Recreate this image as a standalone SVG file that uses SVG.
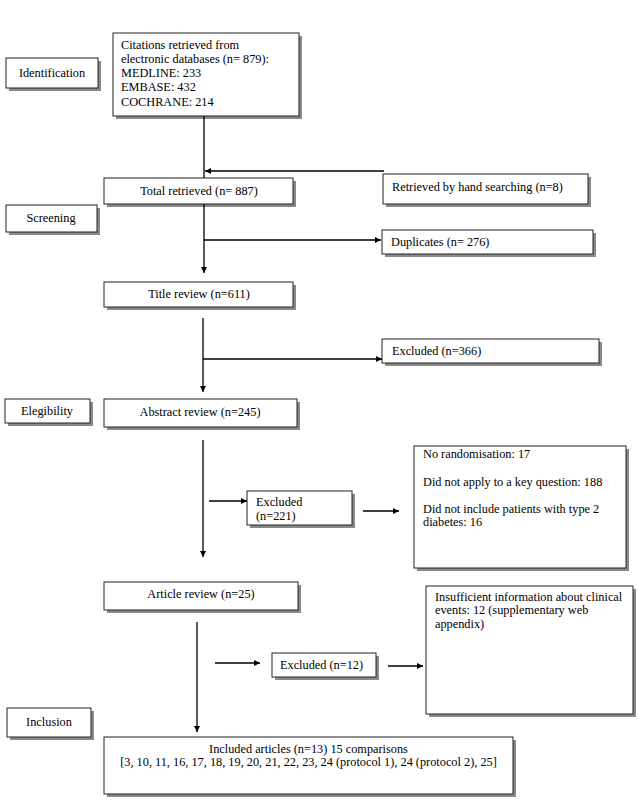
<svg xmlns="http://www.w3.org/2000/svg" width="638" height="800" viewBox="0 0 638 800">
<defs>
<marker id="ah" viewBox="0 0 10 10" refX="10" refY="5" markerWidth="7" markerHeight="6" markerUnits="userSpaceOnUse" orient="auto">
<path d="M0,0 L10,5 L0,10 z" fill="#000"/>
</marker>
<style>
.box{fill:#fff;stroke:#222;stroke-width:1}
.sh{fill:#8a8a8a}
.c{text-anchor:middle}
.ln{stroke:#000;stroke-width:1.3;fill:none}
.ar{stroke:#000;stroke-width:1.3;fill:none;marker-end:url(#ah)}
</style>
</defs>
<rect width="638" height="800" fill="#fff"/>
<g font-family="Liberation Serif, Times New Roman, DejaVu Serif, serif" font-size="12.3" fill="#000">
<g id="identification">
<rect class="sh" x="9" y="61" width="92" height="30"/>
<rect class="box" x="6" y="58" width="92" height="30"/>
<text class="c" x="52" y="77">Identification</text>
</g>
<g id="citations">
<rect class="sh" x="116" y="36" width="186" height="83"/>
<rect class="box" x="113" y="33" width="186" height="83"/>
<text x="121" y="48.5">Citations retrieved from</text>
<text x="121" y="62.8">electronic databases (n= 879):</text>
<text x="121" y="77.1">MEDLINE: 233</text>
<text x="121" y="91.4">EMBASE: 432</text>
<text x="121" y="105.7">COCHRANE: 214</text>
</g>
<g id="total">
<rect class="sh" x="107" y="181" width="189" height="26"/>
<rect class="box" x="104" y="178" width="189" height="26"/>
<text class="c" x="199" y="195">Total retrieved (n= 887)</text>
</g>
<g id="hand">
<rect class="sh" x="386" y="177" width="205" height="30"/>
<rect class="box" x="383" y="174" width="205" height="30"/>
<text x="392" y="191">Retrieved by hand searching (n=8)</text>
</g>
<g id="screening">
<rect class="sh" x="9" y="208" width="91" height="27"/>
<rect class="box" x="6" y="205" width="91" height="27"/>
<text class="c" x="51" y="222">Screening</text>
</g>
<g id="duplicates">
<rect class="sh" x="385" y="233" width="211" height="24"/>
<rect class="box" x="382" y="230" width="211" height="24"/>
<text x="391" y="246">Duplicates (n= 276)</text>
</g>
<g id="title">
<rect class="sh" x="107" y="285" width="189" height="25"/>
<rect class="box" x="104" y="282" width="189" height="25"/>
<text class="c" x="199" y="298">Title review (n=611)</text>
</g>
<g id="excluded366">
<rect class="sh" x="385" y="342" width="217" height="24"/>
<rect class="box" x="382" y="339" width="217" height="24"/>
<text x="392" y="355">Excluded (n=366)</text>
</g>
<g id="elegibility">
<rect class="sh" x="8" y="402" width="85" height="24"/>
<rect class="box" x="5" y="399" width="85" height="24"/>
<text class="c" x="47" y="415">Elegibility</text>
</g>
<g id="abstract">
<rect class="sh" x="107" y="402" width="193" height="28"/>
<rect class="box" x="104" y="399" width="193" height="28"/>
<text class="c" x="200" y="416">Abstract review (n=245)</text>
</g>
<g id="excluded221">
<rect class="sh" x="250" y="494" width="105" height="34"/>
<rect class="box" x="247" y="491" width="105" height="34"/>
<text x="256" y="506">Excluded</text>
<text x="256" y="520">(n=221)</text>
</g>
<g id="reasons221">
<rect class="sh" x="417" y="449" width="212" height="122"/>
<rect class="box" x="414" y="446" width="212" height="122"/>
<text x="423" y="458">No randomisation: 17</text>
<text x="423" y="486">Did not apply to a key question: 188</text>
<text x="423" y="512.5">Did not include patients with type 2</text>
<text x="423" y="525.5">diabetes: 16</text>
</g>
<g id="article">
<rect class="sh" x="107" y="585" width="194" height="28"/>
<rect class="box" x="104" y="582" width="194" height="28"/>
<text class="c" x="201" y="598">Article review (n=25)</text>
</g>
<g id="excluded12">
<rect class="sh" x="275" y="656" width="104" height="24"/>
<rect class="box" x="272" y="653" width="104" height="24"/>
<text x="280" y="669">Excluded (n=12)</text>
</g>
<g id="reasons12">
<rect class="sh" x="429" y="589" width="207" height="128"/>
<rect class="box" x="426" y="586" width="207" height="128"/>
<text x="435" y="600.5">Insufficient information about clinical</text>
<text x="435" y="614">events: 12 (supplementary web</text>
<text x="435" y="627.5">appendix)</text>
</g>
<g id="inclusion">
<rect class="sh" x="10" y="711" width="84" height="29"/>
<rect class="box" x="7" y="708" width="84" height="29"/>
<text class="c" x="49" y="726">Inclusion</text>
</g>
<g id="included">
<rect class="sh" x="107" y="740" width="409" height="57"/>
<rect class="box" x="104" y="737" width="409" height="57"/>
<text class="c" x="308.5" y="752.5">Included articles (n=13) 15 comparisons</text>
<text class="c" x="308.5" y="766">[3, 10, 11, 16, 17, 18, 19, 20, 21, 22, 23, 24 (protocol 1), 24 (protocol 2), 25]</text>
</g>
</g>
<g id="connectors">
<line class="ln" x1="204" y1="116" x2="204" y2="178"/>
<line class="ar" x1="384" y1="171" x2="205" y2="171"/>
<line class="ar" x1="204" y1="204" x2="204" y2="273"/>
<line class="ar" x1="204" y1="240" x2="381" y2="240"/>
<line class="ar" x1="203" y1="318" x2="203" y2="392"/>
<line class="ar" x1="203" y1="359" x2="382" y2="359"/>
<line class="ar" x1="203" y1="440" x2="203" y2="557"/>
<line class="ar" x1="209" y1="501" x2="247" y2="501"/>
<line class="ar" x1="363" y1="511" x2="399" y2="511"/>
<line class="ar" x1="197" y1="622" x2="197" y2="732"/>
<line class="ar" x1="215" y1="663" x2="260" y2="663"/>
<line class="ar" x1="388" y1="666" x2="423" y2="666"/>
</g>
</svg>
